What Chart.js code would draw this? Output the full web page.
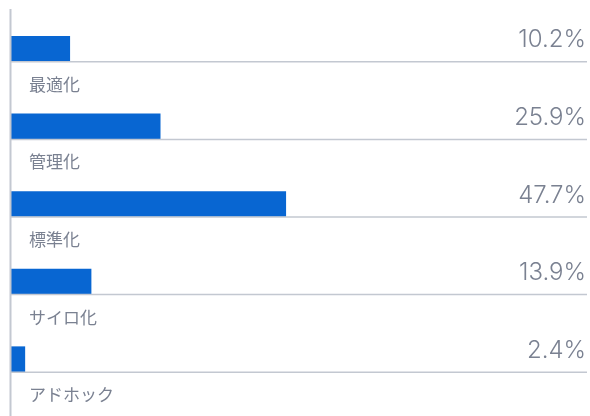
<!DOCTYPE html>
<html lang="ja">
<head>
<meta charset="utf-8">
<script src="https://cdn.jsdelivr.net/npm/chart.js@4/dist/chart.umd.min.js"></script>
<style>
  html, body { margin: 0; padding: 0; background: #fff; }
  #wrap { width: 590px; height: 416px; position: relative; }
</style>
</head>
<body>
<div id="wrap"><canvas id="maturityChart"></canvas></div>
<script>
const categories = ['最適化', '管理化', '標準化', 'サイロ化', 'アドホック'];
const shares = [10.2, 25.9, 47.7, 13.9, 2.4];
const valueLabels = ['10.2%', '25.9%', '47.7%', '13.9%', '2.4%'];

const BAR_COLOR = '#0866d2';
const RULE_COLOR = '#c3c8d1';
const TEXT_COLOR = '#7a8191';

// rules under each bar, category names below them, values on the right
const rowDecor = {
  id: 'rowDecor',
  afterDatasetsDraw(chart) {
    const { ctx, chartArea } = chart;
    const bars = chart.getDatasetMeta(0).data;
    ctx.save();

    // left axis runs down to the bottom edge
    ctx.strokeStyle = RULE_COLOR;
    ctx.lineWidth = 2;
    ctx.beginPath();
    ctx.moveTo(chartArea.left - 0.5, chartArea.top - 1);
    ctx.lineTo(chartArea.left - 0.5, chart.height);
    ctx.stroke();

    bars.forEach((bar, i) => {
      const bottom = bar.y + bar.height / 2;
      ctx.strokeStyle = RULE_COLOR;
      ctx.lineWidth = 1.5;
      ctx.beginPath();
      ctx.moveTo(chartArea.left, bottom + 0.5);
      ctx.lineTo(chartArea.right, bottom + 0.5);
      ctx.stroke();

      ctx.fillStyle = TEXT_COLOR;
      ctx.font = '300 24px Inter, "Noto Sans", sans-serif';
      ctx.textAlign = 'right';
      ctx.textBaseline = 'alphabetic';
      ctx.fillText(valueLabels[i], chartArea.right - 1, bottom - 14);

      ctx.font = '17px "Noto Sans CJK JP", sans-serif';
      ctx.textAlign = 'left';
      ctx.textBaseline = 'middle';
      ctx.fillText(categories[i], chartArea.left + 18, bottom + 23);
    });
    ctx.restore();
  }
};

new Chart(document.getElementById('maturityChart'), {
  type: 'bar',
  data: {
    labels: categories,
    datasets: [{
      data: shares,
      backgroundColor: BAR_COLOR,
      borderWidth: 0,
      barThickness: 25
    }]
  },
  options: {
    indexAxis: 'y',
    responsive: true,
    maintainAspectRatio: false,
    animation: false,
    layout: { padding: { left: 11, right: 3, top: 10, bottom: 18 } },
    scales: {
      x: { display: false, min: 0, max: 100 },
      y: { display: false }
    },
    plugins: {
      legend: { display: false },
      tooltip: { enabled: false }
    }
  },
  plugins: [rowDecor]
});
</script>
</body>
</html>
